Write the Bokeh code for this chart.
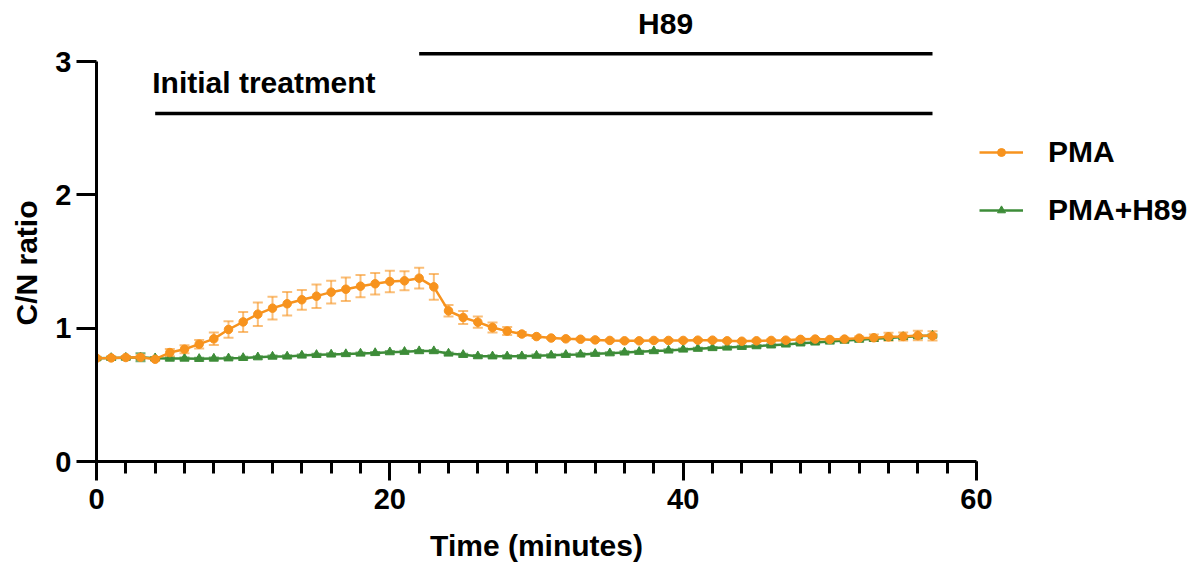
import numpy as np
from bokeh.plotting import figure
from bokeh.models import (ColumnDataSource, Range1d, FixedTicker, Whisker, TeeHead,
                          Legend, LegendItem, Arrow, Label, Title)
from bokeh.embed import file_html
from bokeh.resources import INLINE

# ---------------- data ----------------
time_min = list(range(58))

pma = [0.775, 0.777, 0.780, 0.782, 0.767, 0.817, 0.842, 0.880, 0.920, 0.990,
       1.047, 1.105, 1.150, 1.183, 1.213, 1.240, 1.270, 1.292, 1.315, 1.333,
       1.350, 1.355, 1.375, 1.310, 1.130, 1.080, 1.045, 1.005, 0.978, 0.956,
       0.937, 0.926, 0.920, 0.917, 0.912, 0.908, 0.905, 0.905, 0.908, 0.908,
       0.908, 0.910, 0.910, 0.905, 0.902, 0.905, 0.908, 0.910, 0.916, 0.918,
       0.915, 0.918, 0.925, 0.928, 0.935, 0.938, 0.945, 0.942]
pma_err = [0.010, 0.010, 0.010, 0.015, 0.010, 0.027, 0.030, 0.032, 0.047, 0.061,
           0.075, 0.088, 0.085, 0.088, 0.074, 0.088, 0.085, 0.088, 0.084, 0.080,
           0.080, 0.071, 0.078, 0.096, 0.043, 0.049, 0.042, 0.038, 0.030, 0.015,
           0.010, 0.008, 0.008, 0.008, 0.008, 0.008, 0.008, 0.008, 0.008, 0.008,
           0.008, 0.008, 0.008, 0.008, 0.008, 0.008, 0.008, 0.008, 0.008, 0.008,
           0.008, 0.010, 0.012, 0.025, 0.030, 0.030, 0.035, 0.035]

pma_h89 = [0.775, 0.777, 0.779, 0.781, 0.775, 0.772, 0.772, 0.770, 0.772, 0.774,
           0.777, 0.782, 0.787, 0.788, 0.795, 0.800, 0.803, 0.806, 0.810, 0.814,
           0.820, 0.823, 0.828, 0.828, 0.810, 0.800, 0.790, 0.789, 0.789, 0.790,
           0.794, 0.796, 0.800, 0.803, 0.808, 0.812, 0.818, 0.823, 0.828, 0.833,
           0.840, 0.846, 0.851, 0.855, 0.860, 0.865, 0.871, 0.878, 0.886, 0.893,
           0.900, 0.907, 0.914, 0.920, 0.927, 0.934, 0.940, 0.945]
pma_h89_err = [0.008, 0.008, 0.008, 0.030, 0.008, 0.008, 0.008, 0.008, 0.008, 0.008,
               0.008, 0.008, 0.008, 0.008, 0.008, 0.008, 0.008, 0.008, 0.008, 0.008,
               0.008, 0.008, 0.008, 0.008, 0.008, 0.008, 0.008, 0.008, 0.008, 0.008,
               0.008, 0.008, 0.008, 0.008, 0.008, 0.008, 0.008, 0.008, 0.008, 0.008,
               0.008, 0.008, 0.008, 0.008, 0.008, 0.008, 0.008, 0.008, 0.008, 0.008,
               0.008, 0.008, 0.008, 0.008, 0.008, 0.008, 0.008, 0.008]

series_names = ["PMA", "PMA+H89"]
x_ticks = [0, 20, 40, 60]
x_minor_ticks = list(range(0, 61, 2))
y_ticks = [0, 1, 2, 3]

treatment_labels = ["Initial treatment", "H89"]
treatment_start = [4, 22]
treatment_end = [57, 57]
treatment_level = [2.61, 3.058]

# ---------------- style ----------------
ORANGE = "#F7931E"
GREEN = "#3D8C38"
FONT = "Liberation Sans"

p = figure(frame_width=880, frame_height=461,
           min_border_left=96, min_border_right=0, min_border_top=0, min_border_bottom=109,
           x_range=Range1d(0, 60), y_range=Range1d(0, 3.4575),
           output_backend="svg", toolbar_location=None)
p.xgrid.visible = False
p.ygrid.visible = False
p.outline_line_color = None
p.background_fill_color = "white"
p.border_fill_color = "white"

# x axis
xa = p.xaxis[0]
xa.bounds = (0, 60)
xa.ticker = FixedTicker(ticks=x_ticks, minor_ticks=x_minor_ticks)
xa.axis_line_width = 3
xa.major_tick_line_width = 3
xa.minor_tick_line_width = 3
xa.major_tick_in = 0
xa.major_tick_out = 19
xa.minor_tick_in = 0
xa.minor_tick_out = 12
xa.major_label_standoff = 8
xa.major_label_text_font = FONT
xa.major_label_text_font_style = "bold"
xa.major_label_text_font_size = "29px"
xa.major_label_text_color = "black"
xa.axis_label = "Time (minutes)"
xa.axis_label_text_font = FONT
xa.axis_label_text_font_style = "bold"
xa.axis_label_text_font_size = "30px"
xa.axis_label_text_color = "black"
xa.axis_label_standoff = 17

# y axis
ya = p.yaxis[0]
ya.bounds = (0, 3)
ya.ticker = FixedTicker(ticks=y_ticks, minor_ticks=[])
ya.axis_line_width = 3
ya.major_tick_line_width = 3
ya.major_tick_in = 0
ya.major_tick_out = 20
ya.minor_tick_in = 0
ya.minor_tick_out = 0
ya.major_label_standoff = 5
ya.major_label_text_font = FONT
ya.major_label_text_font_style = "bold"
ya.major_label_text_font_size = "29px"
ya.major_label_text_color = "black"

# y-axis title, aligned on the 0-3 span of the axis
p.add_layout(Title(text="C/N ratio", align="left", offset=136, vertical_align="top",
                   standoff=16, text_font=FONT, text_font_style="bold",
                   text_font_size="30px", text_color="black"), "left")

# treatment bars
bars = ColumnDataSource(dict(x0=treatment_start, x1=treatment_end, y=treatment_level))
p.add_layout(Arrow(x_start="x0", y_start="y", x_end="x1", y_end="y", source=bars,
                   start=None, end=None, line_color="black", line_width=3.5))
p.add_layout(Label(x=3.8, y=2.84, text=treatment_labels[0], text_font=FONT,
                   text_font_style="bold", text_font_size="30px", text_align="left",
                   text_baseline="alphabetic", text_color="black"))
p.add_layout(Label(x=38.8, y=3.285, text=treatment_labels[1], text_font=FONT,
                   text_font_style="bold", text_font_size="30px", text_align="center",
                   text_baseline="alphabetic", text_color="black"))

# series
src_g = ColumnDataSource(dict(t=time_min, y=pma_h89,
                              lo=[a - b for a, b in zip(pma_h89, pma_h89_err)],
                              hi=[a + b for a, b in zip(pma_h89, pma_h89_err)]))
src_o = ColumnDataSource(dict(t=time_min, y=pma,
                              lo=[a - b for a, b in zip(pma, pma_err)],
                              hi=[a + b for a, b in zip(pma, pma_err)]))

wg = Whisker(base="t", lower="lo", upper="hi", source=src_g, line_color=GREEN,
             line_width=2, line_alpha=0.7,
             upper_head=TeeHead(size=10, line_color=GREEN, line_width=2, line_alpha=0.7),
             lower_head=TeeHead(size=10, line_color=GREEN, line_width=2, line_alpha=0.7))
p.add_layout(wg)
lg = p.line("t", "y", source=src_g, line_color=GREEN, line_width=2.5)
sg = p.scatter("t", "y", source=src_g, marker="triangle", size=9,
               fill_color=GREEN, line_color=GREEN)

wo = Whisker(base="t", lower="lo", upper="hi", source=src_o, line_color=ORANGE,
             line_width=2, line_alpha=0.6,
             upper_head=TeeHead(size=10, line_color=ORANGE, line_width=2, line_alpha=0.6),
             lower_head=TeeHead(size=10, line_color=ORANGE, line_width=2, line_alpha=0.6))
p.add_layout(wo)
lo_ = p.line("t", "y", source=src_o, line_color=ORANGE, line_width=2.5)
so = p.scatter("t", "y", source=src_o, marker="circle", size=8.5,
               fill_color=ORANGE, line_color=ORANGE)

legend = Legend(items=[LegendItem(label=series_names[0], renderers=[lo_, so]),
                       LegendItem(label=series_names[1], renderers=[lg, sg])],
                location=(0, 231), orientation="vertical",
                glyph_width=44, glyph_height=20, label_standoff=25,
                spacing=24, padding=3, margin=0,
                border_line_alpha=0, background_fill_alpha=0,
                label_text_font=FONT, label_text_font_style="bold",
                label_text_font_size="30px", label_text_color="black")
p.add_layout(legend, "right")

open("out.html", "w").write(file_html(p, INLINE))
